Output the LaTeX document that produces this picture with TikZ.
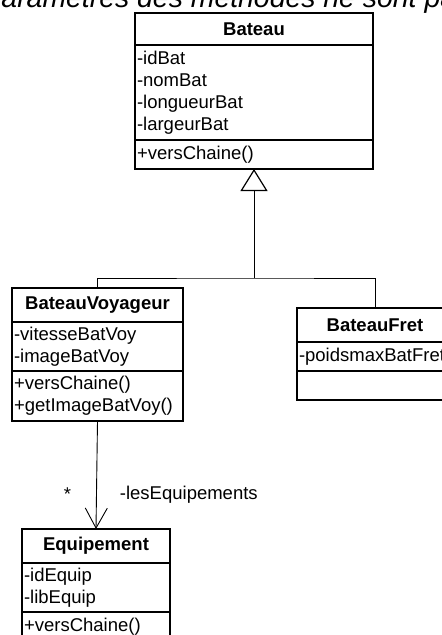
\documentclass[tikz,border=0pt]{standalone}
\usepackage{fontspec}
\setmainfont{Liberation Sans}
\usetikzlibrary{positioning,arrows.meta}

\newcommand{\umlfont}{\fontsize{18.5}{22}\selectfont}

\tikzset{
  umlbox/.style={draw, line width=1.2pt, outer sep=0pt, inner xsep=2pt, inner ysep=0pt, font=\umlfont},
  umlhead/.style={umlbox, font=\umlfont\bfseries, align=center},
  umlpart/.style={umlbox, align=left},
  lien/.style={line width=0.9pt},
  etiq/.style={inner sep=0pt, font=\umlfont},
}

\begin{document}
\begin{tikzpicture}[x=1pt, y=-1pt]
  \useasboundingbox (0,0) rectangle (442,635);
  \clip (0,0) rectangle (442,635);

  \node[anchor=base west, inner sep=0pt, font=\fontsize{28.4}{34}\selectfont\itshape] (titre) at (-14.5,7.8) {paramètres des méthodes ne sont pas};

  \node[umlhead, anchor=north west, text width=234pt, minimum height=32pt] (bHead) at (135,13) {Bateau};
  \node[umlpart, below right=0pt and 0pt of bHead.south west, text width=234pt, minimum height=95pt] (bAttr) {-idBat\\-nomBat\\-longueurBat\\-largeurBat};
  \node[umlpart, below right=0pt and 0pt of bAttr.south west, text width=234pt, minimum height=29pt] (bMeth) {+versChaine()};

  \node[umlhead, anchor=north west, text width=167pt, minimum height=34pt] (vHead) at (12,288) {BateauVoyageur};
  \node[umlpart, below right=0pt and 0pt of vHead.south west, text width=167pt, minimum height=49pt] (vAttr) {-vitesseBatVoy\\-imageBatVoy};
  \node[umlpart, below right=0pt and 0pt of vAttr.south west, text width=167pt, minimum height=50pt] (vMeth) {+versChaine()\\+getImageBatVoy()};

  \node[umlhead, anchor=north west, text width=152pt, minimum height=34pt] (fHead) at (297,308) {BateauFret};
  \node[umlpart, below right=0pt and 0pt of fHead.south west, text width=152pt, minimum height=29pt] (fAttr) {-poidsmaxBatFret};
  \node[umlpart, below right=0pt and 0pt of fAttr.south west, text width=152pt, minimum height=29pt] (fMeth) {};

  \node[umlhead, anchor=north west, text width=144pt, minimum height=34pt] (eHead) at (22,529) {Equipement};
  \node[umlpart, below right=0pt and 0pt of eHead.south west, text width=144pt, minimum height=49pt] (eAttr) {-idEquip\\-libEquip};
  \node[umlpart, below right=0pt and 0pt of eAttr.south west, text width=144pt, minimum height=30pt] (eMeth) {+versChaine()};

  \coordinate (fourche) at (bMeth.south |- 0,278);
  \draw[lien] (vHead.north) |- (fourche) -| (fHead.north);
  \draw[lien, -{Triangle[open, length=22pt, width=27pt, line width=1.2pt]}] (fourche) -- (bMeth.south);

  \draw[lien, -{Straight Barb[length=20pt, width=22pt]}] (vMeth.south) -- (eHead.north)
    node[etiq, pos=0.68, left=25pt] {*}
    node[etiq, pos=0.68, right=23pt] {-lesEquipements};
\end{tikzpicture}
\end{document}
